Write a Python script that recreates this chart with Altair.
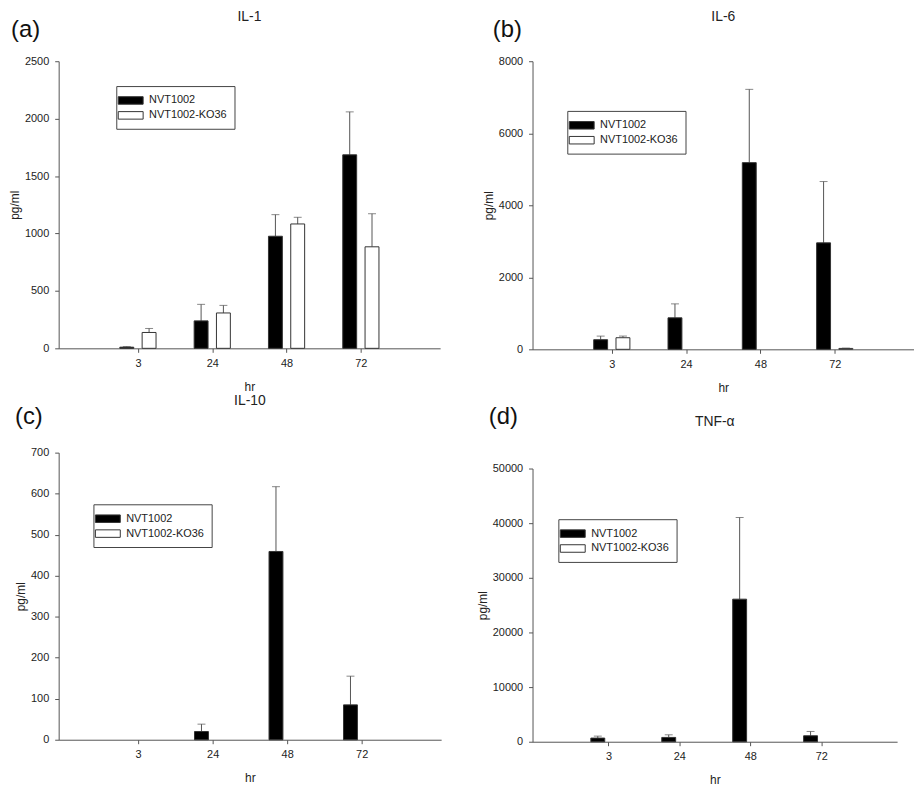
import altair as alt
import pandas as pd

hours = ["3", "24", "48", "72"]
groups = ["NVT1002", "NVT1002-KO36"]

# IL-1
il1_nvt = [10, 239, 976, 1685]
il1_nvt_err = [5, 144, 188, 374]
il1_ko = [138, 308, 1083, 884]
il1_ko_err = [35, 66, 58, 288]

# IL-6
il6_nvt = [267, 875, 5184, 2956]
il6_nvt_err = [100, 387, 2035, 1703]
il6_ko = [322, 0, 0, 25]
il6_ko_err = [46, 0, 0, 8]

# IL-10
il10_nvt = [0, 20, 459, 85]
il10_nvt_err = [0, 18, 158, 70]
il10_ko = [0, 0, 0, 0]
il10_ko_err = [0, 0, 0, 0]

# TNF-alpha
tnf_nvt = [666, 787, 26090, 1090]
tnf_nvt_err = [360, 480, 14950, 790]
tnf_ko = [0, 0, 0, 0]
tnf_ko_err = [0, 0, 0, 0]

FONT = "Liberation Sans"
AXIS_COLOR = "#555555"
TEXT_COLOR = "#222222"

label_expr = "[''," + ",".join("'%s'" % h for h in hours) + ",''][datum.value]"
SYMBOL = "M-1.79,-0.54L1.79,-0.54L1.79,0.54L-1.79,0.54Z"


def panel(letter, title, nvt, nvt_err, ko, ko_err, ymax, ystep, w, h,
          leg_xy, letter_xy, title_y):
    df = pd.DataFrame({
        "idx": list(range(1, len(hours) + 1)) * 2,
        "group": [groups[0]] * len(hours) + [groups[1]] * len(hours),
        "value": nvt + ko,
        "err": nvt_err + ko_err,
    })
    base = alt.Chart(df).transform_calculate(
        xpos="datum.idx + (datum.group == '%s' ? -0.15 : 0.15)" % groups[0],
        top="datum.value + datum.err",
    )
    x = alt.X(
        "xpos:Q",
        scale=alt.Scale(domain=[0, len(hours) + 1], nice=False, zero=False),
        axis=alt.Axis(values=list(range(1, len(hours) + 1)), labelExpr=label_expr,
                      title="hr", grid=False, tickSize=4, labelPadding=5,
                      titlePadding=13, labelFlush=False),
    )
    y_scale = alt.Scale(domain=[0, ymax], nice=False)
    y_axis = alt.Axis(values=list(range(0, ymax + 1, ystep)), format="d",
                      title="pg/ml", grid=False, tickSize=4, labelPadding=6,
                      titlePadding=3, labelFlush=False)
    bars = base.transform_filter("datum.value > 0").mark_bar(
        size=14, stroke="#333333", strokeWidth=1
    ).encode(
        x=x,
        y=alt.Y("value:Q", scale=y_scale, axis=y_axis),
        color=alt.Color(
            "group:N",
            scale=alt.Scale(domain=groups, range=["#000000", "#ffffff"]),
            legend=alt.Legend(
                title=None, orient="none", legendX=leg_xy[0], legendY=leg_xy[1],
                direction="vertical",
                strokeColor="#444444", fillColor="white", padding=7,
                symbolType=SYMBOL, symbolSize=196, symbolStrokeColor="#333333",
                symbolStrokeWidth=1, symbolOpacity=1, labelOffset=11,
                labelFont=FONT, labelFontSize=11, labelColor=TEXT_COLOR,
                rowPadding=1,
            ),
        ),
    )
    errs = base.transform_filter("datum.err > 0")
    rule = errs.mark_rule(color=AXIS_COLOR, strokeWidth=1).encode(
        x="xpos:Q", y="value:Q", y2="top:Q")
    cap = errs.mark_tick(orient="horizontal", size=8, thickness=1,
                         color=AXIS_COLOR).encode(x="xpos:Q", y="top:Q")
    lab = alt.Chart(pd.DataFrame({"t": [letter]})).mark_text(
        align="left", baseline="middle", fontSize=24, font=FONT, color="#111111"
    ).encode(text="t:N", x=alt.value(letter_xy[0]), y=alt.value(letter_xy[1]))
    ttl = alt.Chart(pd.DataFrame({"t": [title]})).mark_text(
        align="center", baseline="middle", fontSize=14, font=FONT, color=TEXT_COLOR
    ).encode(text="t:N", x=alt.value(w / 2), y=alt.value(title_y))
    return alt.layer(rule, cap, bars, lab, ttl).properties(width=w, height=h)


pa = panel("(a)", "IL-1", il1_nvt, il1_nvt_err, il1_ko, il1_ko_err, 2500, 500,
           384, 289, (58, 25), (-48, -31), -44)
pb = panel("(b)", "IL-6", il6_nvt, il6_nvt_err, il6_ko, il6_ko_err, 8000, 2000,
           384, 290, (35, 50), (-40, -31), -44)
pc = panel("(c)", "IL-10", il10_nvt, il10_nvt_err, il10_ko, il10_ko_err, 700, 100,
           385, 289, (35, 52), (-44, -36), -52)
pd_ = panel("(d)", "TNF-\u03b1", tnf_nvt, tnf_nvt_err, tnf_ko, tnf_ko_err, 50000, 10000,
            367, 275, (26, 51), (-44, -52), -47)

left = alt.vconcat(pa, pc, spacing=105, bounds="flush").resolve_scale(
    color="independent").resolve_legend(color="independent")
right = alt.vconcat(pb, pd_, spacing=120, bounds="flush").resolve_scale(
    color="independent").resolve_legend(color="independent")

chart = alt.hconcat(left, right, spacing=35).resolve_scale(
    color="independent").resolve_legend(color="independent").properties(
    padding=0, background="white"
).configure_view(stroke=None).configure_axis(
    labelFont=FONT, labelFontSize=11, labelColor=TEXT_COLOR,
    titleFont=FONT, titleFontSize=12, titleFontWeight="normal", titleColor=TEXT_COLOR,
    domainColor=AXIS_COLOR, tickColor=AXIS_COLOR,
)

chart.save("out.html", embed_options={"renderer": "svg", "actions": False})
